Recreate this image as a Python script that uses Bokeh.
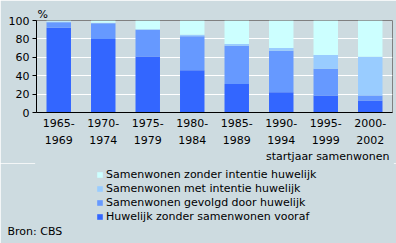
from bokeh.plotting import figure
from bokeh.models import (FactorRange, Range1d, Legend, LegendItem, Title, Grid,
                          ColumnDataSource)
from bokeh.layouts import column
from bokeh.embed import file_html
from bokeh.resources import INLINE

period_start = ["1965-", "1970-", "1975-", "1980-", "1985-", "1990-", "1995-", "2000-"]
period_end = ["1969", "1974", "1979", "1984", "1989", "1994", "1999", "2002"]
huwelijk_zonder = [92, 80, 61, 46, 31, 22, 18.5, 13]
gevolgd_door = [6, 17, 29, 37, 41.5, 45, 29, 5.5]
met_intentie = [1, 0.5, 0.5, 1.5, 2, 3, 15, 42]
zonder_intentie = [1, 2.5, 9.5, 15.5, 25.5, 30, 37.5, 39.5]

names = ["Huwelijk zonder samenwonen vooraf", "Samenwonen gevolgd door huwelijk",
         "Samenwonen met intentie huwelijk", "Samenwonen zonder intentie huwelijk"]
keys = ["a", "b", "c", "d"]
colors = ["#3366FF", "#6699FF", "#99CCFF", "#CCFFFF"]

# nested factors: outer level (bottom row) = end year, inner level (top row) = start year
factors = list(zip(period_end, period_start))
source = ColumnDataSource(dict(x=factors, a=huwelijk_zonder, b=gevolgd_door,
                               c=met_intentie, d=zonder_intentie))

FONT = "DejaVu Sans"
BG = "#CDDBE0"

xr = FactorRange(*factors, range_padding=0, group_padding=0, factor_padding=0)
p = figure(width=396, height=163, x_range=xr,
           y_range=Range1d(0, 100), output_backend="svg", toolbar_location=None,
           min_border_left=36, min_border_right=4, min_border_top=20, min_border_bottom=50)
p.background_fill_color = BG
p.border_fill_color = BG
p.outline_line_color = "#808080"

rs = p.vbar_stack(keys, x="x", width=0.55, color=colors, line_color=None, source=source)

p.xgrid.grid_line_color = None
p.ygrid.grid_line_color = "white"
p.ygrid.grid_line_width = 1

p.yaxis.ticker = [0, 20, 40, 60, 80, 100]
p.yaxis.major_tick_out = 4
p.yaxis.major_tick_in = 0
p.yaxis.minor_tick_line_color = None
p.yaxis.axis_line_color = "black"
p.yaxis.major_label_text_font = FONT
p.yaxis.major_label_text_font_size = "11px"
p.yaxis.major_label_text_color = "black"
p.yaxis.major_label_standoff = 3

xa = p.xaxis[0]
xa.major_tick_line_color = None
xa.major_tick_out = 0
xa.axis_line_color = "black"
xa.major_label_text_font = FONT
xa.major_label_text_font_size = "11px"
xa.major_label_text_color = "black"
xa.major_label_standoff = 6
xa.group_text_font = FONT
xa.group_text_font_size = "11px"
xa.group_text_font_style = "normal"
xa.group_text_color = "black"
xa.group_label_orientation = "horizontal"
xa.separator_line_color = None

p.add_layout(Title(text="%", align="left", offset=1, text_font=FONT, text_font_size="11px",
                   text_font_style="normal", text_color="black", standoff=0), "above")

p.add_layout(Title(text="startjaar samenwonen", align="right", offset=3, text_font=FONT,
                   text_font_size="11px", text_font_style="normal", text_color="black",
                   standoff=2), "below")

# lower panel: legend and source note.  The swatch renderers carry the same
# stacked series (zero width, y range far above 100) so no bar is in view.
p2 = figure(width=396, height=80, x_range=xr, y_range=Range1d(1000, 1100),
            output_backend="svg", toolbar_location=None,
            x_axis_location=None, y_axis_location=None,
            min_border_left=36, min_border_right=4, min_border_top=0, min_border_bottom=19)
p2.background_fill_color = BG
p2.border_fill_color = BG
p2.outline_line_color = BG
p2.outline_line_width = 3
for g in p2.select(type=Grid):
    g.visible = False
    g.grid_line_color = None

swatches = p2.vbar_stack(keys, x="x", width=0, color=colors, line_color=None,
                         source=source)

items = [LegendItem(label=names[i], renderers=[swatches[i]]) for i in [3, 2, 1, 0]]
legend = Legend(items=items, location=(60, 1), orientation="vertical",
                padding=0, margin=0, spacing=0, label_height=14,
                glyph_width=7, glyph_height=7, label_standoff=3,
                background_fill_alpha=0, border_line_color=None,
                label_text_font=FONT, label_text_font_size="11px",
                label_text_color="black")
p2.add_layout(legend, "center")

p2.add_layout(Title(text="Bron: CBS", align="left", offset=-29, text_font=FONT,
                    text_font_size="11px", text_font_style="normal", text_color="black",
                    standoff=-4), "below")

layout = column(p, p2, spacing=0)
open("out.html", "w").write(file_html(layout, INLINE))
